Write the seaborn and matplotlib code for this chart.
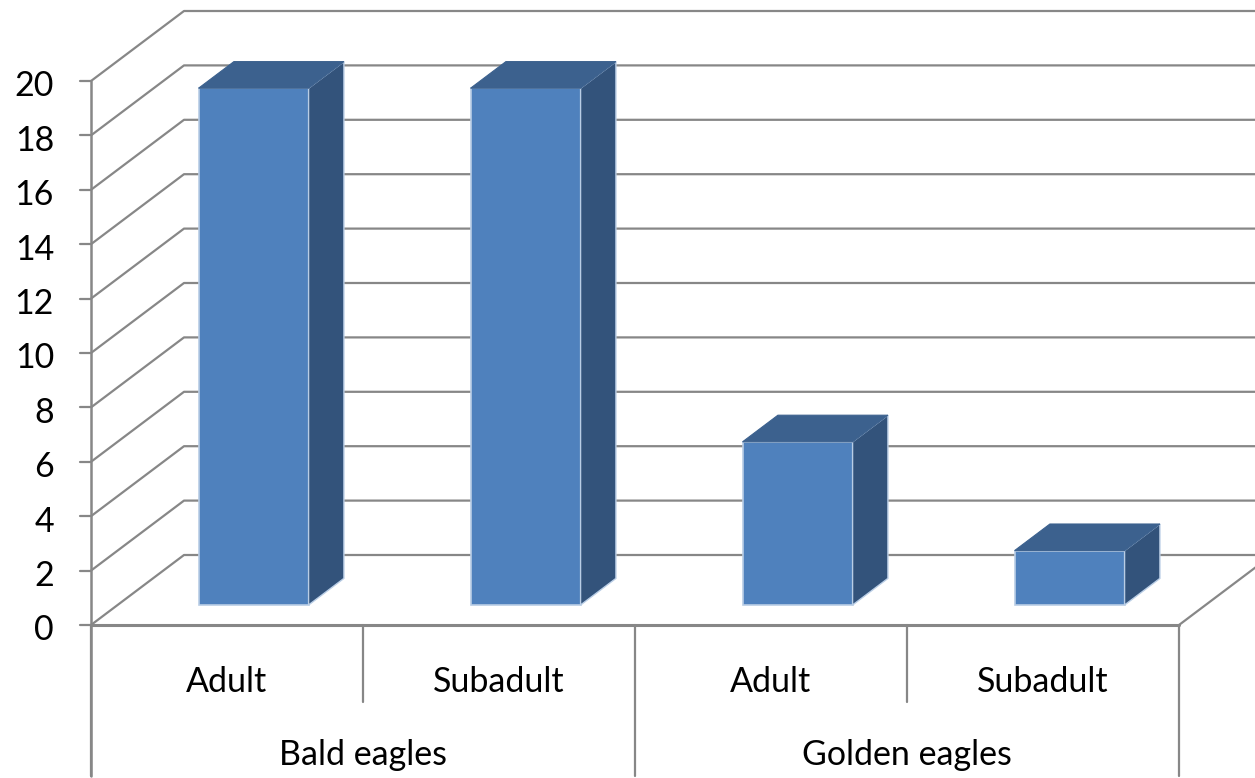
import numpy as np
import pandas as pd
import matplotlib
matplotlib.use("Agg")
import matplotlib.pyplot as plt
from matplotlib.patches import Polygon
import seaborn as sns

# ---- data ----
groups = ["Bald eagles", "Bald eagles", "Golden eagles", "Golden eagles"]
ages = ["Adult", "Subadult", "Adult", "Subadult"]
values = [19, 19, 6, 2]
group_names = ["Bald eagles", "Golden eagles"]
y_ticks = list(range(0, 21, 2))

sns.set_theme(style="white")
plt.rcParams['font.family'] = ['Lato', 'DejaVu Sans']

W, H = 1255, 778
fig = plt.figure(figsize=(W / 100, H / 100), dpi=100)
ax = fig.add_axes([0, 0, 1, 1])

# pixel geometry of the oblique frame
px_x0, px_y0 = 91, 625        # front-left floor corner
px_per_cat = 272
px_per_val = 27.2
n = len(values)
ax.set_xlim(-0.5 - px_x0 / px_per_cat, -0.5 + (W - px_x0) / px_per_cat)
ax.set_ylim(-(H - px_y0) / px_per_val, px_y0 / px_per_val)
ax.axis('off')

# depth vector in data units
DX = 93 / px_per_cat
DY = 70 / px_per_val

grid_c = '#878787'
left = -0.5
right = n - 0.5
FS = 24.5

# back wall + side wall gridlines
for v in y_ticks:
    ax.plot([left, left + DX, right + DX], [v, v + DY, v + DY],
            color=grid_c, lw=1.6, solid_capstyle='butt', zorder=1)
    # tick marks
    ax.plot([left - 11 / px_per_cat, left], [v, v], color=grid_c, lw=1.6, zorder=2)
    ax.text(left - 37 / px_per_cat, v - 0.2, str(v), ha='right', va='center',
            fontsize=FS, color='black')

# floor edges
ax.plot([left, right], [0, 0], color=grid_c, lw=2.2, zorder=2)
ax.plot([right, right + DX], [0, DY], color=grid_c, lw=1.6, zorder=1)
# left axis line
ax.plot([left, left], [y_ticks[-1], -5.55], color=grid_c, lw=1.8, zorder=2)

# category separators
for i in range(n + 1):
    xb = left + i
    bottom = -5.55 if i % 2 == 0 else -2.83
    ax.plot([xb, xb], [0, bottom], color=grid_c, lw=1.6, zorder=2)

# category labels
for i, a in enumerate(ages):
    ax.text(i, -2.1, a, ha='center', va='center', fontsize=FS, color='black')
for g, name in enumerate(group_names):
    ax.text(2 * g + 0.5, -4.78, name, ha='center', va='center', fontsize=FS, color='black')

# bars (front faces) via seaborn
df = pd.DataFrame({"pos": [str(i) for i in range(n)], "value": values})
sns.barplot(data=df, x="pos", y="value", ax=ax, color='#4F81BD', saturation=1,
            width=110 / px_per_cat, edgecolor='#b9cde5', linewidth=1.2, zorder=3)

f_front = 20 / 70.0     # front face depth fraction
f_depth = 0.38          # bar depth fraction
ox, oy = f_front * DX, f_front * DY
bdx, bdy = f_depth * DX, f_depth * DY
for p in list(ax.patches):
    p.set_x(p.get_x() + ox)
    p.set_y(p.get_y() + oy)
    x0 = p.get_x()
    x1 = x0 + p.get_width()
    y0 = p.get_y()
    y1 = y0 + p.get_height()
    top = Polygon([(x0, y1), (x1, y1), (x1 + bdx, y1 + bdy), (x0 + bdx, y1 + bdy)],
                  closed=True, facecolor='#3C618E', edgecolor='#3C618E', lw=0.8, zorder=3)
    side = Polygon([(x1, y0), (x1 + bdx, y0 + bdy), (x1 + bdx, y1 + bdy), (x1, y1)],
                   closed=True, facecolor='#33537B', edgecolor='#b9cde5', lw=1.0, zorder=3)
    ax.add_patch(side)
    ax.add_patch(top)

ax.set_xlim(-0.5 - px_x0 / px_per_cat, -0.5 + (W - px_x0) / px_per_cat)
ax.set_ylim(-(H - px_y0) / px_per_val, px_y0 / px_per_val)
ax.axis('off')

fig.savefig("out.png", dpi=100, facecolor='white')
